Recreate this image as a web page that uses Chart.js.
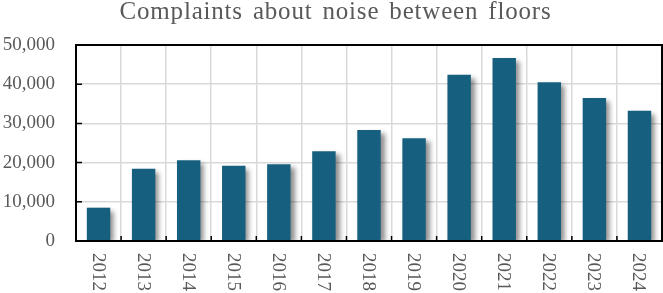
<!DOCTYPE html>
<html>
<head>
<meta charset="utf-8">
<script src="https://cdn.jsdelivr.net/npm/chart.js@4"></script>
<style>
  html, body { margin: 0; padding: 0; background: #fff; }
  #wrap { width: 663px; height: 293px; position: relative; }
</style>
</head>
<body>
<div id="wrap"><canvas id="noiseChart"></canvas></div>
<script>
const chartTitle = 'Complaints about noise between floors';
const years = ['2012', '2013', '2014', '2015', '2016', '2017', '2018', '2019', '2020', '2021', '2022', '2023', '2024'];
const complaints = [8500, 18400, 20600, 19200, 19600, 22900, 28300, 26200, 42400, 46700, 40500, 36500, 33200];
const yTicks = [0, 10000, 20000, 30000, 40000, 50000];

const textColor = '#595959';
const serif = '"Liberation Serif", "Times New Roman", serif';

// title, bar shadow, frame, inner tick marks and top-to-bottom year labels
const decorations = {
    id: 'decorations',
    beforeDatasetsDraw(chart) {
        const ctx = chart.ctx;
        ctx.save();
        ctx.shadowColor = 'rgba(0,0,0,0.45)';
        ctx.shadowBlur = 5;
        ctx.shadowOffsetX = 4;
        ctx.shadowOffsetY = 3;
    },
    afterDatasetsDraw(chart) {
        chart.ctx.restore();
    },
    afterDraw(chart) {
        const ctx = chart.ctx;
        const area = chart.chartArea;
        const x = chart.scales.x;
        const y = chart.scales.y;
        ctx.save();
        ctx.strokeStyle = '#000';
        ctx.lineWidth = 1.5;
        ctx.beginPath();
        yTicks.forEach(v => {
            const py = y.getPixelForValue(v);
            ctx.moveTo(area.left, py);
            ctx.lineTo(area.left + 6, py);
        });
        for (let i = 1; i < years.length; i++) {
            const px = (x.getPixelForValue(i - 1) + x.getPixelForValue(i)) / 2;
            ctx.moveTo(px, area.bottom);
            ctx.lineTo(px, area.bottom - 5);
        }
        ctx.stroke();
        ctx.lineWidth = 2;
        ctx.strokeRect(area.left, area.top, area.right - area.left, area.bottom - area.top);

        ctx.fillStyle = textColor;
        ctx.font = '19px ' + serif;
        ctx.textAlign = 'left';
        ctx.textBaseline = 'middle';
        years.forEach((yr, i) => {
            ctx.save();
            ctx.translate(x.getPixelForValue(i) - 1, area.bottom + 12);
            ctx.rotate(Math.PI / 2);
            ctx.fillText(yr, 0, 0);
            ctx.restore();
        });

        ctx.font = '25px ' + serif;
        ctx.textAlign = 'center';
        ctx.textBaseline = 'alphabetic';
        ctx.letterSpacing = '0.8px';
        ctx.wordSpacing = '3px';
        ctx.fillText(chartTitle, chart.width / 2 + 4, 19);
        ctx.restore();
    }
};

new Chart(document.getElementById('noiseChart'), {
    type: 'bar',
    data: {
        labels: years,
        datasets: [{
            label: 'Complaints',
            data: complaints,
            backgroundColor: '#175f7f',
            barPercentage: 0.52,
            categoryPercentage: 1
        }]
    },
    options: {
        responsive: true,
        maintainAspectRatio: false,
        animation: false,
        layout: { padding: { top: 45, right: 1, bottom: 0, left: 0 } },
        plugins: {
            legend: { display: false },
            tooltip: { enabled: false },
            title: { display: false }
        },
        scales: {
            x: {
                grid: { offset: true, color: '#d9d9d9', lineWidth: 1.5, drawTicks: false },
                border: { display: false },
                ticks: { display: false },
                afterFit: s => { s.height = 52; }
            },
            y: {
                min: 0,
                max: 50000,
                grid: { color: '#d9d9d9', lineWidth: 1.5, drawTicks: false },
                border: { display: false },
                ticks: {
                    stepSize: 10000,
                    padding: 21,
                    color: textColor,
                    font: { family: serif, size: 19 },
                    callback: v => v.toLocaleString('en-US')
                },
                afterFit: s => { s.width = 76; }
            }
        }
    },
    plugins: [decorations]
});
</script>
</body>
</html>
